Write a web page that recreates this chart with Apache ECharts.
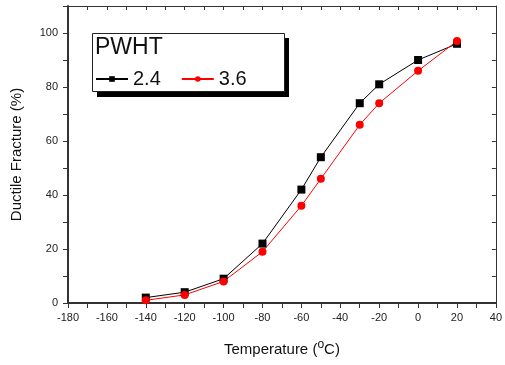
<!DOCTYPE html>
<html>
<head>
<meta charset="utf-8">
<script src="https://cdn.jsdelivr.net/npm/echarts@6/dist/echarts.min.js"></script>
<style>
  html, body { margin: 0; padding: 0; background: #fff; }
  #chart { width: 505px; height: 365px; }
</style>
</head>
<body>
<div id="chart"></div>
<script>
// temperatures (°C) and ductile fracture (%)
const temps = [-140, -120, -100, -80, -60, -50, -30, -20, 0, 20];
const pwht24 = [2, 4, 9, 22, 42, 54, 74, 81, 90, 96];
const pwht36 = [1, 3, 8, 19, 36, 46, 66, 74, 86, 97];
const seriesNames = ['2.4', '3.6'];

const chart = echarts.init(document.getElementById('chart'));
const font = 'Liberation Sans, Arial, sans-serif';
const axisColor = '#333';

chart.setOption({
  animation: false,
  grid: { left: 68, right: 4, top: 6, bottom: 62 },
  legend: {
    data: seriesNames,
    z: 120,
    left: 95,
    top: 69,
    padding: 0,
    itemWidth: 32,
    itemHeight: 7,
    itemGap: 20,
    textStyle: { fontFamily: font, fontSize: 20, color: '#111' }
  },
  graphic: [
    { type: 'rect', z: 100, shape: { x: 97, y: 38, width: 192, height: 59 }, style: { fill: '#000' } },
    { type: 'rect', z: 101, shape: { x: 92.5, y: 33.5, width: 192, height: 58 }, style: { fill: '#fff', stroke: '#222', lineWidth: 1 } },
    { type: 'text', z: 102, left: 95, top: 36, style: { text: 'PWHT', font: '23px ' + font, fill: '#111' } }
  ],
  xAxis: [
    {
      type: 'value', min: -180, max: 40, interval: 10,
      name: 'Temperature ({sup|o}C)',
      nameLocation: 'middle', nameGap: 36,
      nameTextStyle: {
        fontFamily: font, fontSize: 15, color: '#111',
        rich: { sup: { fontFamily: font, fontSize: 12, color: '#111', padding: [0, 0, 10, 0] } }
      },
      axisLine: { onZero: false, lineStyle: { color: axisColor, width: 2 } },
      axisTick: { inside: false, length: 5, lineStyle: { color: axisColor } },
      axisLabel: {
        margin: 9, fontFamily: font, fontSize: 11, color: '#222',
        formatter: v => (v % 20 === 0 ? String(v) : '')
      },
      splitLine: { show: false }
    },
    {
      type: 'value', position: 'top', min: -180, max: 40, interval: 10,
      axisLine: { show: true, onZero: false, lineStyle: { color: axisColor, width: 1 } },
      axisTick: { show: true, inside: true, length: 4, lineStyle: { color: axisColor } },
      axisLabel: { show: false },
      splitLine: { show: false }
    }
  ],
  yAxis: [
    {
      type: 'value', min: 0, max: 110, interval: 10,
      name: 'Ductile Fracture (%)',
      nameLocation: 'middle', nameGap: 44,
      nameTextStyle: { fontFamily: font, fontSize: 15, color: '#111' },
      axisLine: { show: true, onZero: false, lineStyle: { color: axisColor, width: 2 } },
      axisTick: { show: true, inside: false, length: 5, lineStyle: { color: axisColor } },
      axisLabel: {
        margin: 10, fontFamily: font, fontSize: 11, color: '#222',
        formatter: v => (v % 20 === 0 && v <= 100 ? String(v) : '')
      },
      splitLine: { show: false }
    },
    {
      type: 'value', position: 'right', min: 0, max: 110, interval: 10,
      axisLine: { show: true, onZero: false, lineStyle: { color: axisColor, width: 1 } },
      axisTick: { show: true, inside: true, length: 4, lineStyle: { color: axisColor } },
      axisLabel: { show: false },
      splitLine: { show: false }
    }
  ],
  series: [
    {
      name: seriesNames[0], type: 'line',
      data: temps.map((t, i) => [t, pwht24[i]]),
      symbol: 'rect', symbolSize: 8,
      lineStyle: { color: '#000', width: 1 },
      itemStyle: { color: '#000' }
    },
    {
      name: seriesNames[1], type: 'line',
      data: temps.map((t, i) => [t, pwht36[i]]),
      symbol: 'circle', symbolSize: 8,
      lineStyle: { color: '#ff0000', width: 1 },
      itemStyle: { color: '#ff0000' }
    }
  ]
});
</script>
</body>
</html>
